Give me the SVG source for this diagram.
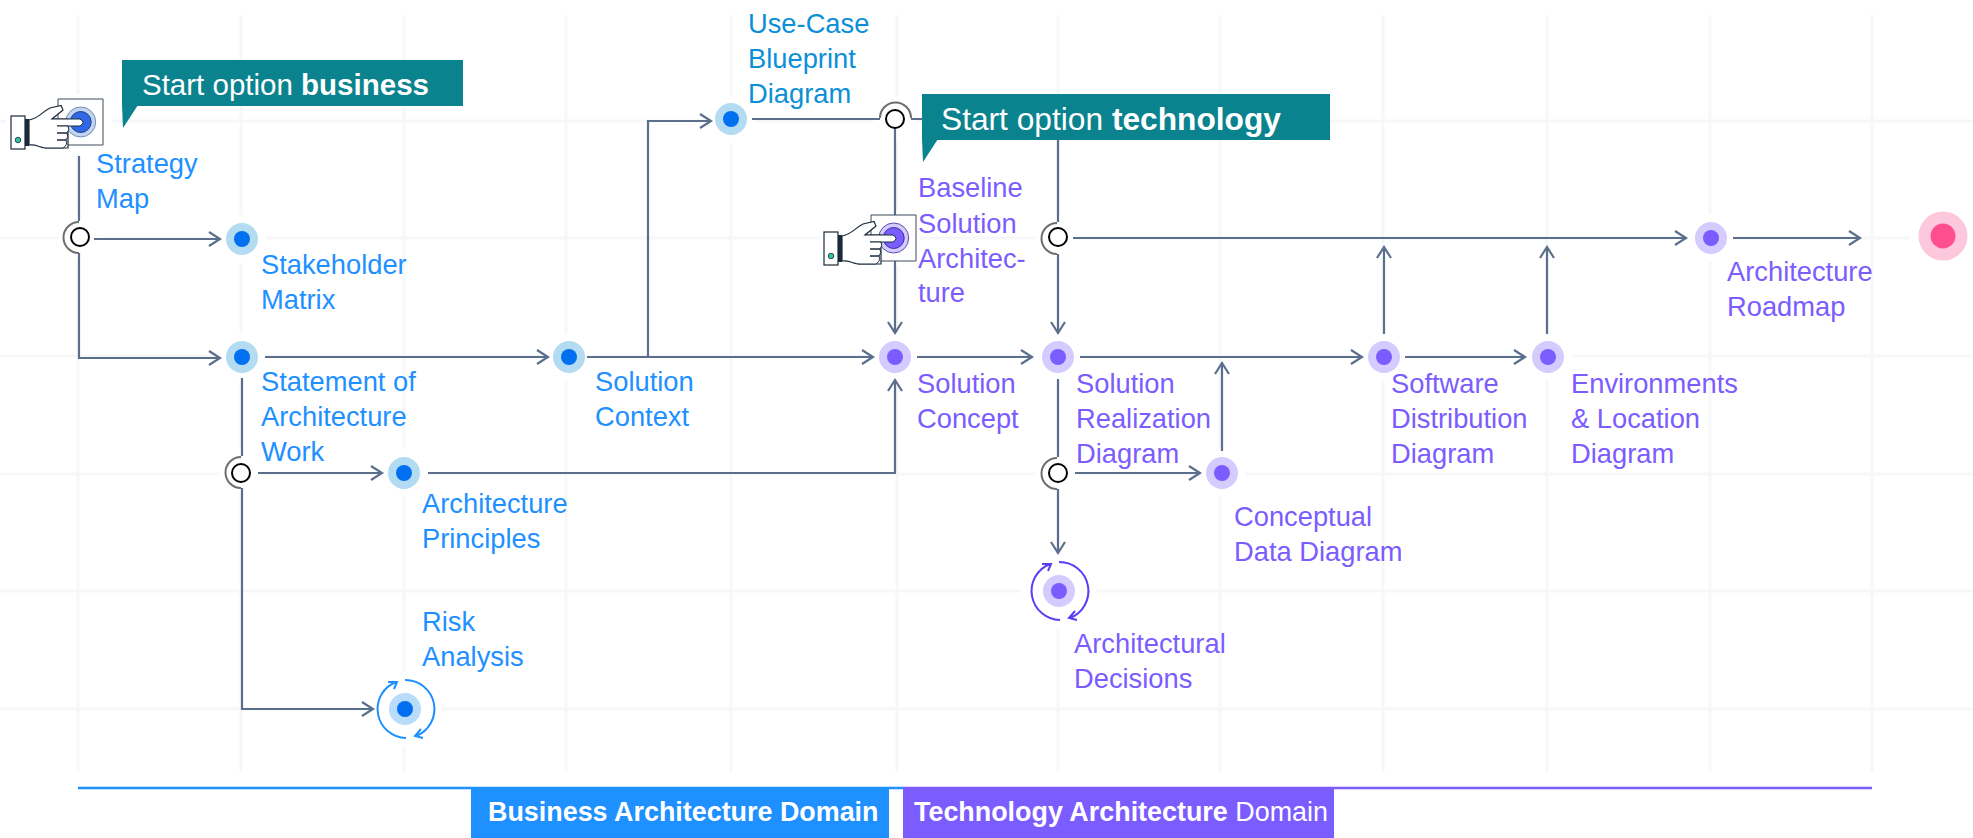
<svg xmlns="http://www.w3.org/2000/svg" width="1973" height="838" viewBox="0 0 1973 838">
<style>
text{font-family:"Liberation Sans",Arial,sans-serif;font-size:27.300px}
.b{fill:#1e90ff}.p{fill:#7b5cff}.u{fill:#0b8fd8}
.grid{stroke:#f6f7f8;stroke-width:3;fill:none}
.c{stroke:#5b6f8c;stroke-width:2.2;fill:none}
.a{marker-end:url(#arr)}
.bo{fill:#b3dcf2}.bi{fill:#0070f0}.po{fill:#d4ccff}.pi{fill:#7b5cff}
.halo{fill:#fff}
.jr{fill:#fff;stroke:#000;stroke-width:2}.ja{fill:none;stroke:#6e6e6e;stroke-width:2}
.ban{fill:#0a838f}.bt{fill:#fff;font-size:29.500px}.bt2{fill:#fff;font-size:31.700px}
.dm{fill:#fff;font-size:26.900px}
.lb{fill:none;stroke:#1e90ff;stroke-width:2}.lp{fill:none;stroke:#5b3df5;stroke-width:2}
</style>
<defs>
<marker id="arr" markerUnits="userSpaceOnUse" markerWidth="18" markerHeight="18" refX="14" refY="9" orient="auto">
<path d="M3 2L14 9L3 16" fill="none" stroke="#5b6f8c" stroke-width="2.2"/>
</marker>
<path id="box" d="M58 99H103V145H58Z" fill="#fff" stroke="#3a4a5c" stroke-width="1"/>
<g id="front">
<path d="M29 120C38 119 42 112 50 108L61 105.500L63 110L52 119H68V148H45C38 147 36 144 29 145Z" fill="#fff" stroke="#1b2a3a" stroke-width="1.200"/>
<path d="M52 119H80Q86 122.500 80 126H57" fill="#fff" stroke="#1b2a3a" stroke-width="1"/>
<path d="M57 126H68Q70 130 67 133H57M57 133H67Q69 137 66 140H57M57 140H66Q68 145 63 148H45" fill="#fff" stroke="#1b2a3a" stroke-width="1"/>
<rect x="11" y="116" width="14" height="33" fill="#fff" stroke="#1b2a3a" stroke-width="1.200"/>
<rect x="25" y="119" width="4" height="27" fill="#1b2a3a"/>
<circle cx="18" cy="140" r="2.800" fill="#2fc4a0" stroke="#1b2a3a" stroke-width=".8"/>
</g>
<path id="loop" d="M1059 562A29 29 0 0 1 1070 618M1075 611L1069 618L1077 620M1060 620A29 29 0 0 1 1050 564M1042 564L1051 564L1048 571"/>
</defs>
<g id="grid" class="grid">
<path d="M78 15V772M241 15V772M404 15V772M566 15V772M731 15V772M897 15V772M1058 15V772M1220 15V772M1383 15V772M1547 15V772M1710 15V772M1872 15V772"/>
<path d="M0 121H1973M0 238H1973M0 356H1973M0 474H1973M0 591H1973M0 709H1973"/>
</g>
<g id="halos" class="halo">
<circle cx="242" cy="239" r="24"/><circle cx="242" cy="357" r="24"/><circle cx="569" cy="357" r="24"/><circle cx="731" cy="119" r="24"/><circle cx="895" cy="357" r="24"/><circle cx="1058" cy="357" r="24"/><circle cx="1384" cy="357" r="24"/><circle cx="1548" cy="357" r="24"/><circle cx="1711" cy="238" r="24"/><circle cx="1222" cy="473" r="24"/><circle cx="404" cy="473" r="24"/><circle cx="405" cy="709" r="38"/><circle cx="1059" cy="591" r="38"/><circle cx="1943" cy="236" r="34"/><circle cx="80" cy="237" r="22"/><circle cx="241" cy="472" r="22"/><circle cx="1057" cy="473" r="22"/><circle cx="1058" cy="238" r="22"/><circle cx="895" cy="119" r="22"/>
<rect x="6" y="94" width="106" height="60"/><rect x="820" y="210" width="100" height="56"/>
<rect x="1910" y="225" width="63" height="26"/>
</g>
<g id="connectors">
<path class="c" d="M79 156V221M79 253V358H220" marker-end="url(#arr)"/>
<path class="c a" d="M94 239H220"/>
<path class="c a" d="M265 357H548"/>
<path class="c a" d="M587 357H873"/>
<path class="c a" d="M648 357V121H711"/>
<path class="c" d="M752 119H880"/>
<path class="c a" d="M895 128V333"/>
<path class="c" d="M911 119H1058V222"/>
<path class="c a" d="M1058 254V333"/>
<path class="c a" d="M1073 238H1686"/>
<path class="c" d="M242 378V456M242 488V709H373" marker-end="url(#arr)"/>
<path class="c a" d="M258 473H382"/>
<path class="c a" d="M428 473H895V380"/>
<path class="c a" d="M917 357H1032"/>
<path class="c" d="M1058 379V457"/>
<path class="c a" d="M1058 489V553"/>
<path class="c a" d="M1075 473H1200"/>
<path class="c a" d="M1222 451V363"/>
<path class="c a" d="M1080 357H1362"/>
<path class="c a" d="M1384 334V247"/>
<path class="c a" d="M1405 357H1525"/>
<path class="c a" d="M1547 334V247"/>
<path class="c a" d="M1733 238H1860"/>
</g>
<g id="j1"><path class="ja" d="M79 222A15.500 15.500 0 0 0 79 253"/><circle class="jr" cx="80" cy="237" r="9"/></g>
<g id="j2"><path class="ja" d="M241 457A15.500 15.500 0 0 0 241 488"/><circle class="jr" cx="241" cy="473" r="9"/></g>
<g id="j3"><path class="ja" d="M880 118A15.500 15.500 0 0 1 911 118"/><circle class="jr" cx="895" cy="119" r="9"/></g>
<g id="j4"><path class="ja" d="M1057 223A15.500 15.500 0 0 0 1057 254"/><circle class="jr" cx="1058" cy="237" r="9"/></g>
<g id="j5"><path class="ja" d="M1057 458A15.500 15.500 0 0 0 1057 489"/><circle class="jr" cx="1058" cy="473" r="9"/></g>

<g id="strategy-map"><use href="#box"/><circle cx="80.700" cy="122" r="15" fill="#c3d4ee" stroke="#6f8fb8"/><circle cx="80.700" cy="122" r="10.500" fill="#3168e6" stroke="#23408a"/><use href="#front"/><text class="b" x="96" y="173">Strategy</text><text class="b" x="96" y="208">Map</text></g>
<g id="start-business"><rect class="ban" x="122" y="60" width="341" height="46"/><path class="ban" d="M122 105H138L123 128Z"/><text class="bt" x="142" y="95">Start option <tspan font-weight="700">business</tspan></text></g>
<g id="stakeholder-matrix"><circle class="bo" cx="242" cy="239" r="16"/><circle class="bi" cx="242" cy="239" r="8"/><text class="b" x="261" y="274">Stakeholder</text><text class="b" x="261" y="309">Matrix</text></g>
<g id="statement"><circle class="bo" cx="242" cy="357" r="16"/><circle class="bi" cx="242" cy="357" r="8"/><text class="b" x="261" y="391">Statement of</text><text class="b" x="261" y="426">Architecture</text><text class="b" x="261" y="461">Work</text></g>
<g id="solution-context"><circle class="bo" cx="569" cy="357" r="16"/><circle class="bi" cx="569" cy="357" r="8"/><text class="b" x="595" y="391">Solution</text><text class="b" x="595" y="426">Context</text></g>
<g id="use-case"><circle class="bo" cx="731" cy="119" r="16"/><circle class="bi" cx="731" cy="119" r="8"/><text class="u" x="748" y="33">Use-Case</text><text class="u" x="748" y="68">Blueprint</text><text class="u" x="748" y="103">Diagram</text></g>
<g id="principles"><circle class="bo" cx="404" cy="473" r="16"/><circle class="bi" cx="404" cy="473" r="8"/><text class="b" x="422" y="513">Architecture</text><text class="b" x="422" y="548">Principles</text></g>
<g id="risk"><circle cx="405" cy="709" r="16" fill="#b8dcfa"/><circle class="bi" cx="405" cy="709" r="8"/><use href="#loop" class="lb" x="-654" y="118"/><text class="b" x="422" y="631">Risk</text><text class="b" x="422" y="666">Analysis</text></g>
<g id="baseline"><use href="#box" x="813" y="116"/><circle cx="893.700" cy="238" r="15" fill="#d4ccff" stroke="#5b4bb0"/><circle cx="893.700" cy="238" r="10.500" fill="#7b5cff" stroke="#3e2f9a"/><use href="#front" x="813" y="116"/><text class="p" x="918" y="197">Baseline</text><text class="p" x="918" y="233">Solution</text><text class="p" x="918" y="268">Architec-</text><text class="p" x="918" y="302">ture</text></g>
<g id="start-technology"><rect class="ban" x="922" y="94" width="408" height="46"/><path class="ban" d="M922 139H938L923 162Z"/><text class="bt2" x="941" y="130">Start option <tspan font-weight="700">technology</tspan></text></g>
<g id="solution-concept"><circle class="po" cx="895" cy="357" r="16"/><circle class="pi" cx="895" cy="357" r="8"/><text class="p" x="917" y="393">Solution</text><text class="p" x="917" y="428">Concept</text></g>
<g id="realization"><circle class="po" cx="1058" cy="357" r="16"/><circle class="pi" cx="1058" cy="357" r="8"/><text class="p" x="1076" y="393">Solution</text><text class="p" x="1076" y="428">Realization</text><text class="p" x="1076" y="463">Diagram</text></g>
<g id="conceptual"><circle class="po" cx="1222" cy="473" r="16"/><circle class="pi" cx="1222" cy="473" r="8"/><text class="p" x="1234" y="526">Conceptual</text><text class="p" x="1234" y="561">Data Diagram</text></g>
<g id="decisions"><circle class="po" cx="1059" cy="591" r="16"/><circle class="pi" cx="1059" cy="591" r="8"/><use href="#loop" class="lp"/><text class="p" x="1074" y="653">Architectural</text><text class="p" x="1074" y="688">Decisions</text></g>
<g id="software"><circle class="po" cx="1384" cy="357" r="16"/><circle class="pi" cx="1384" cy="357" r="8"/><text class="p" x="1391" y="393">Software</text><text class="p" x="1391" y="428">Distribution</text><text class="p" x="1391" y="463">Diagram</text></g>
<g id="environments"><circle class="po" cx="1548" cy="357" r="16"/><circle class="pi" cx="1548" cy="357" r="8"/><text class="p" x="1571" y="393">Environments</text><text class="p" x="1571" y="428">&amp; Location</text><text class="p" x="1571" y="463">Diagram</text></g>
<g id="roadmap"><circle class="po" cx="1711" cy="238" r="16"/><circle class="pi" cx="1711" cy="238" r="8"/><text class="p" x="1727" y="281">Architecture</text><text class="p" x="1727" y="316">Roadmap</text></g>
<g id="end"><circle cx="1943" cy="236" r="24.500" fill="#fdc8dc"/><circle cx="1943" cy="236" r="12.500" fill="#ff4f8f"/></g>
<g id="domains">
<path d="M78 788H904" stroke="#1e90ff" stroke-width="2.500" fill="none"/><path d="M904 788H1872" stroke="#7b5cff" stroke-width="2.500" fill="none"/>
<rect x="471" y="787" width="418" height="51" fill="#1e90ff"/><rect x="903" y="787" width="431" height="51" fill="#7b5cff"/>
<text class="dm" x="488" y="821" font-weight="700">Business Architecture Domain</text>
<text class="dm" x="914" y="821"><tspan font-weight="700">Technology Architecture</tspan> Domain</text>
</g>
</svg>
